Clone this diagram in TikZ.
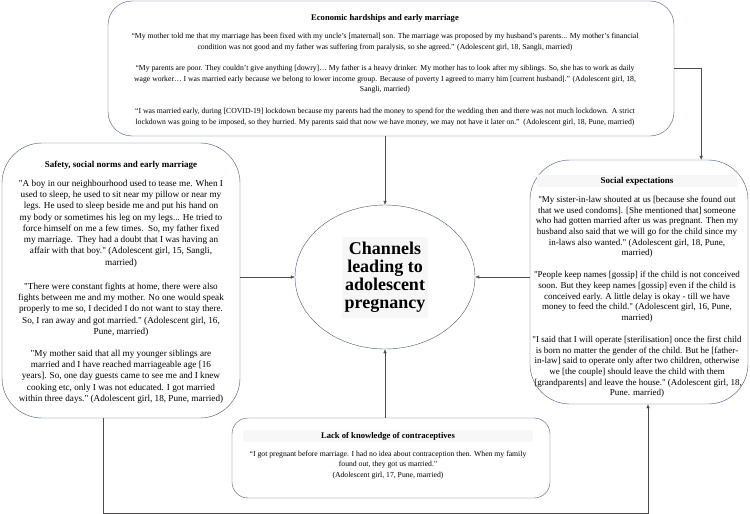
\documentclass[tikz,border=0pt]{standalone}
\usepackage{fontspec}
\setmainfont{Liberation Serif}[Ligatures=TeXOff]
\usetikzlibrary{arrows.meta,shapes.geometric,calc}
\definecolor{boxblue}{RGB}{68,88,124}
\definecolor{lgray}{cmyk}{0,0,0,0.035}
\definecolor{dgray}{cmyk}{0,0,0,0.8}
% fonts of the single boxes
\newcommand{\topfont}{\fontsize{7.7}{10.5}\selectfont}
\newcommand{\leftfont}{\fontsize{9.2}{11.3}\selectfont}
\newcommand{\rightfont}{\fontsize{9}{10.7}\selectfont}
\newcommand{\bottomfont}{\fontsize{7.7}{10.3}\selectfont}
\tikzset{%
    % style for the rounded boxes, the argument is the corner radius
    theme box/.style={%
        draw=boxblue,
        thin,
        shape=rectangle,
        rounded corners=#1,
        inner sep=0pt,
    },
    % style for the ellipse in the middle
    channel ellipse/.style={%
        draw=boxblue,
        thin,
        shape=ellipse,
        minimum width=180pt,
        minimum height=144pt,
        inner sep=0pt,
        align=center,
        font=\fontsize{18}{21}\selectfont\bfseries,
    },
    % style for the heading of a box
    heading/.style={%
        font=\bfseries,
        inner sep=0.5pt,
    },
    % heading with a faint band behind it
    band heading/.style={%
        heading,
        fill=lgray,
        minimum width=#1,
        inner ysep=2pt,
    },
    % style for a quote
    quote/.style={%
        align=center,
        inner sep=0pt,
    },
    % style for the connectors
    link/.style={%
        draw=dgray,
        thin,
        -{Latex[length=4pt,width=3.5pt]},
    },
}

\begin{document}
\begin{tikzpicture}[x=1pt,y=-1pt]
    % size of the reference, the y axis points down
    \path [use as bounding box] (0,0) rectangle (750,514);
    % center
    \node (channel) [channel ellipse] at (385,277)
          {\colorbox{lgray}{\begin{tabular}{@{}c@{}}Channels\\[-3pt]leading to\\[-3pt]adolescent\\[-3pt]pregnancy\end{tabular}}};
    % boxes
    \node (econ) [theme box=24pt, minimum width=566pt, minimum height=135pt]
          at (391,68.5) {};
    \node (safety) [theme box=40pt, minimum width=238pt, minimum height=275pt]
          at (121,280.5) {};
    \node (social) [theme box=40pt, minimum width=218pt, minimum height=244pt]
          at (639,282) {};
    \node (contra) [theme box=16pt, minimum width=318pt, minimum height=80pt]
          at (391,458) {};
    % texts of the top box
    \node (econ-head) [heading, font=\fontsize{8.6}{10}\selectfont\bfseries]
          at (385,18) {Economic hardships and early marriage};
    \node (econ-q1) [quote, font=\topfont] at (385,42)
          {“My mother told me that my marriage has been fixed with my uncle’s [maternal] son. The marriage was proposed by my husband’s parents... My mother’s financial\\
           condition was not good and my father was suffering from paralysis, so she agreed.” (Adolescent girl, 18, Sangli, married)};
    \node (econ-q2) [quote, font=\topfont] at (385,79.5)
          {“My parents are poor. They couldn’t give anything [dowry]… My father is a heavy drinker. My mother has to look after my siblings. So, she has to work as daily\\
           wage worker… I was married early because we belong to lower income group. Because of poverty I agreed to marry him [current husband].” (Adolescent girl, 18,\\
           Sangli, married)};
    \node (econ-q3) [quote, font=\topfont] at (385,117)
          {“I was married early, during [COVID-19] lockdown because my parents had the money to spend for the wedding then and there was not much lockdown.\ \ A strict\\
           lockdown was going to be imposed, so they hurried. My parents said that now we have money, we may not have it later on.”\ \ (Adolescent girl, 18, Pune, married)};
    % texts of the left box
    \node (safety-head) [heading, font=\fontsize{9}{10}\selectfont\bfseries]
          at (121,165) {Safety, social norms and early marriage};
    \node (safety-q1) [quote, font=\leftfont] at (121,223.5)
          {"A boy in our neighbourhood used to tease me. When I\\
           used to sleep, he used to sit near my pillow or near my\\
           legs. He used to sleep beside me and put his hand on\\
           my body or sometimes his leg on my legs... He tried to\\
           force himself on me a few times.\ \ So, my father fixed\\
           my marriage.\ \ They had a doubt that I was having an\\
           affair with that boy." (Adolescent girl, 15, Sangli,\\
           married)};
    \node (safety-q2) [quote, font=\leftfont] at (121,309.5)
          {"There were constant fights at home, there were also\\
           fights between me and my mother. No one would speak\\
           properly to me so, I decided I do not want to stay there.\\
           So, I ran away and got married." (Adolescent girl, 16,\\
           Pune, married)};
    \node (safety-q3) [quote, font=\leftfont] at (121,376.5)
          {"My mother said that all my younger siblings are\\
           married and I have reached marriageable age [16\\
           years]. So, one day guests came to see me and I knew\\
           cooking etc, only I was not educated. I got married\\
           within three days." (Adolescent girl, 18, Pune, married)};
    % texts of the right box
    \node (social-head) [band heading=200pt, font=\fontsize{9}{10}\selectfont\bfseries]
          at (637,181) {Social expectations};
    \node (social-q1) [quote, font=\rightfont] at (637,227)
          {"My sister-in-law shouted at us [because she found out\\
           that we used condoms]. [She mentioned that] someone\\
           who had gotten married after us was pregnant. Then my\\
           husband also said that we will go for the child since my\\
           in-laws also wanted." (Adolescent girl, 18, Pune,\\
           married)};
    \node (social-q2) [quote, font=\rightfont] at (637,297)
          {"People keep names [gossip] if the child is not conceived\\
           soon. But they keep names [gossip] even if the child is\\
           conceived early. A little delay is okay - till we have\\
           money to feed the child." (Adolescent girl, 16, Pune,\\
           married)};
    \node (social-q3) [quote, font=\rightfont] at (637,367)
          {"I said that I will operate [sterilisation] once the first child\\
           is born no matter the gender of the child. But he [father-\\
           in-law] said to operate only after two children, otherwise\\
           we [the couple] should leave the child with them\\{}
           [grandparents] and leave the house." (Adolescent girl, 18,\\
           Pune. married)};
    % texts of the bottom box
    \node (contra-head) [band heading=290pt, font=\fontsize{8.6}{10}\selectfont\bfseries]
          at (388,436) {Lack of knowledge of contraceptives};
    \node (contra-q1) [quote, font=\bottomfont] at (388,465)
          {“I got pregnant before marriage. I had no idea about contraception then. When my family\\
           found out, they got us married."\\
           (Adolescent girl, 17, Pune, married)};
    % connectors
    \draw [link] (econ.south -| channel.north) -- (channel.north);
    \draw [link] (econ.east) -- ++(27,0) coordinate (econ-turn)
          -- (econ-turn |- social.north);
    \draw [link] (safety.east |- channel.west) -- (channel.west);
    \draw [link] (social.west |- channel.east) -- (channel.east);
    \draw [link] (channel.south |- contra.north) -- (channel.south);
    %% the long way round below the bottom box
    \draw [link] ([xshift=-18pt]safety.south) -- ++(0,95)
          -| ([xshift=9pt]social.south);
\end{tikzpicture}
\end{document}
